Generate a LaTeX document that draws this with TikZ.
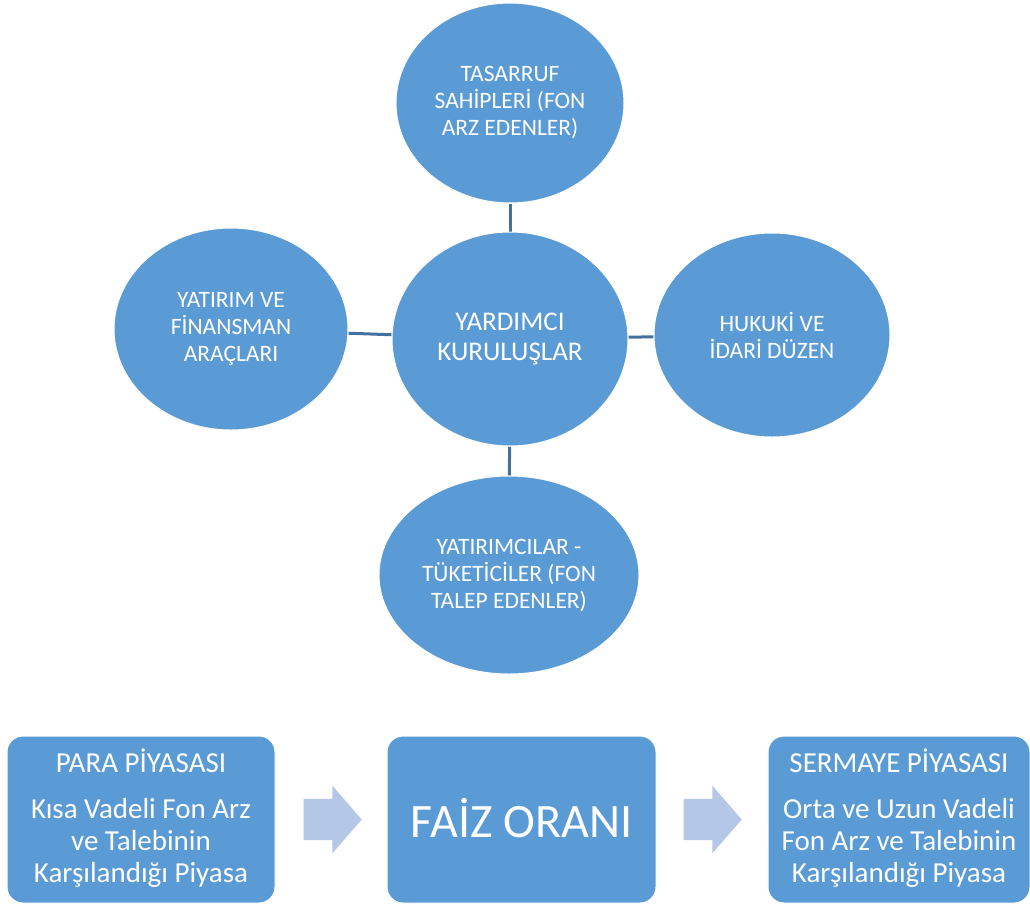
\documentclass[tikz,border=0pt]{standalone}
\usepackage{fontspec}
\setmainfont{Carlito}
\usetikzlibrary{shapes.geometric,shapes.arrows,calc,backgrounds}
\definecolor{fillblue}{HTML}{5B9BD5}
\definecolor{linkblue}{HTML}{41719C}
\definecolor{arrowblue}{HTML}{B4C7E7}
\begin{document}
\begin{tikzpicture}[x=1pt,y=-1pt,
 circ/.style={ellipse, fill=fillblue, draw=white, line width=1pt, inner sep=0pt, text=white, align=center},
 small/.style={font=\fontsize{23.5}{27}\selectfont},
 link/.style={draw=linkblue, line width=3pt},
 panel/.style={rectangle, rounded corners=16pt, fill=fillblue, draw=white, line width=1pt, inner sep=0pt},
 paneltext/.style={text=white, align=center, inner sep=0pt, font=\fontsize{29}{32}\selectfont},
 blockarrow/.style={single arrow, fill=arrowblue, inner sep=0pt, text height=20.5pt, text depth=20.5pt, text width=0pt, minimum height=58pt, minimum width=67pt, single arrow head extend=13pt, single arrow tip angle=98}
]
\useasboundingbox (0,0) rectangle (1030,905);

\node[circ, small, minimum width=228pt, minimum height=200pt] (top) at (510,103) {TASARRUF\\SAHİPLERİ (FON\\ARZ EDENLER)};
\node[circ, font=\fontsize{27}{30}\selectfont, minimum width=236pt, minimum height=214pt] (mid) at (510,339) {YARDIMCI\\KURULUŞLAR};
\node[circ, small, minimum width=234pt, minimum height=202pt] (left) at (231,329) {YATIRIM VE\\FİNANSMAN\\ARAÇLARI};
\node[circ, small, minimum width=236pt, minimum height=204pt] (right) at (772,335) {HUKUKİ VE\\İDARİ DÜZEN};
\node[circ, small, minimum width=260pt, minimum height=198pt] (bot) at (509,575) {YATIRIMCILAR -\\TÜKETİCİLER (FON\\TALEP EDENLER)};

\begin{pgfonlayer}{background}
\fill[white] (0,0) rectangle (1030,905);
\draw[link] (top) -- (mid);
\draw[link] (left) -- (mid);
\draw[link] (right) -- (mid);
\draw[link] (bot) -- (mid);
\end{pgfonlayer}

\node[panel, minimum width=268pt, minimum height=167pt] (b1) at (141,819.5) {};
\node[panel, minimum width=269pt, minimum height=167pt] (b2) at (521.5,819.5) {};
\node[panel, minimum width=262pt, minimum height=167pt] (b3) at (899,819.5) {};

\node[paneltext, anchor=base] (h1) at ($(b1.north)+(0,37)$) {PARA PİYASASI};
\node[paneltext] (t1) at ($(b1.north)+(0,107)$) {Kısa Vadeli Fon Arz\\ve Talebinin\\Karşılandığı Piyasa};
\node[text=white, inner sep=0pt, font=\fontsize{48}{55}\selectfont, anchor=base] (t2) at ($(b2.north)+(0,102)$) {FAİZ ORANI};
\node[paneltext, anchor=base] (h3) at ($(b3.north)+(0,37)$) {SERMAYE PİYASASI};
\node[paneltext] (t3) at ($(b3.north)+(0,107)$) {Orta ve Uzun Vadeli\\Fon Arz ve Talebinin\\Karşılandığı Piyasa};

\node[blockarrow, anchor=tip] (a1) at (362,819.5) {};
\node[blockarrow, anchor=tip] (a2) at (742,819.5) {};
\end{tikzpicture}
\end{document}
